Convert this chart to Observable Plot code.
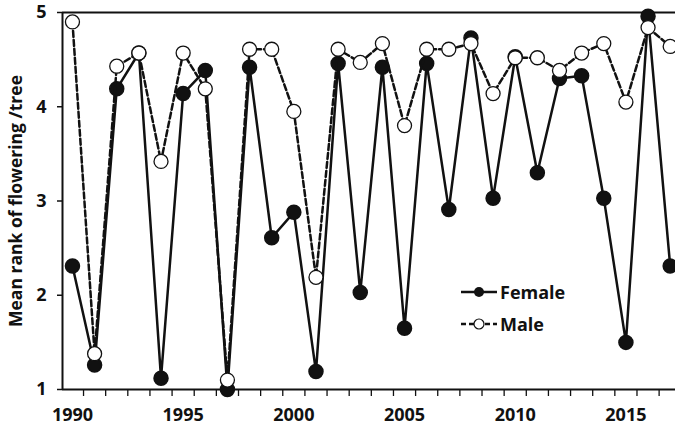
<!DOCTYPE html>
<html>
<head>
<meta charset="utf-8">
<script src="https://cdn.jsdelivr.net/npm/d3@7"></script>
<script src="https://cdn.jsdelivr.net/npm/@observablehq/plot@0.6"></script>
<style>
  html, body { margin: 0; padding: 0; background: #fff; }
  #wrap { position: relative; width: 675px; height: 426px; font-family: "Open Sans", sans-serif; }
  #wrap svg text { font-weight: 700 !important; }
  #legend { position: absolute; left: 460px; top: 276px; font-weight: 700; font-size: 18px; color: #111; }
  #legend .row { display: flex; align-items: center; height: 32px; }
  #legend svg { margin-right: 2px; }
</style>
</head>
<body>
<div id="wrap"></div>
<script>
const years = [1990,1991,1992,1993,1994,1995,1996,1997,1998,1999,2000,2001,2002,2003,2004,2005,2006,2007,2008,2009,2010,2011,2012,2013,2014,2015,2016,2017];
const female = [2.31,1.26,4.19,4.57,1.12,4.14,4.385,1.0,4.42,2.61,2.88,1.19,4.46,2.03,4.42,1.65,4.46,2.91,4.73,3.03,4.53,3.30,4.30,4.33,3.03,1.50,4.96,2.31];
const male = [4.90,1.38,4.43,4.57,3.42,4.57,4.19,1.10,4.61,4.61,3.95,2.19,4.61,4.47,4.67,3.80,4.61,4.61,4.67,4.14,4.52,4.52,4.385,4.57,4.67,4.05,4.84,4.64];
const yTicks = [1,2,3,4,5];
const xLabelTicks = [1990,1995,2000,2005,2010,2015];
const xBoundaryTicks = d3.range(1990.5, 2017.5, 1);
const xDomain = [1989.55, 2017.24];
const yDomain = [1, 5];

const fData = years.map((y,i)=>({year:y, value:female[i]}));
const mData = years.map((y,i)=>({year:y, value:male[i]}));

const chart = Plot.plot({
  width: 675,
  height: 426,
  marginTop: 12,
  marginBottom: 37,
  marginLeft: 62,
  marginRight: 0,
  style: { fontFamily: "'Open Sans', sans-serif", fontSize: "18px", fontWeight: "bold", background: "#fff", color: "#111" },
  x: { domain: xDomain },
  y: { domain: yDomain },
  marks: [
    Plot.axisY({ ticks: yTicks, tickSize: 5, tickPadding: 11, tickFormat: d3.format("d"), label: null, fontSize: 18, strokeWidth: 1.5 }),
    Plot.text(["Mean rank of flowering /tree"], { frameAnchor: "left", textAnchor: "middle", rotate: -90, dx: -46, fontSize: 17.5, fill: "#111" }),
    Plot.axisX({ ticks: xBoundaryTicks, tickSize: 7, tickFormat: () => "", label: null, strokeWidth: 1.3 }),
    Plot.axisX({ ticks: xLabelTicks, tickSize: 0, tickPadding: 19, tickFormat: d3.format("d"), label: null, fontSize: 18 }),
    Plot.ruleY(yDomain, { stroke: "#111", strokeWidth: 2 }),
    Plot.ruleX([xDomain[0]], { stroke: "#111", strokeWidth: 2 }),
    Plot.line(fData, { x: "year", y: "value", stroke: "#111", strokeWidth: 2.5 }),
    Plot.dot(fData, { x: "year", y: "value", r: 7, fill: "#111", stroke: "#111" }),
    Plot.line(mData, { x: "year", y: "value", stroke: "#111", strokeWidth: 2.5, strokeDasharray: "6,3" }),
    Plot.dot(mData, { x: "year", y: "value", r: 7, fill: "#fff", stroke: "#111", strokeWidth: 1.3 })
  ]
});
const wrap = document.getElementById("wrap");
wrap.appendChild(chart);

const legend = document.createElement("div");
legend.id = "legend";
legend.innerHTML = `
  <div class="row"><svg width="38" height="14"><line x1="1" y1="7" x2="37" y2="7" stroke="#111" stroke-width="2.5"/><circle cx="19" cy="7" r="5" fill="#111"/></svg>Female</div>
  <div class="row"><svg width="38" height="14"><line x1="1" y1="7" x2="37" y2="7" stroke="#111" stroke-width="2.5" stroke-dasharray="5,3"/><circle cx="19" cy="7" r="5" fill="#fff" stroke="#111" stroke-width="1.2"/></svg>Male</div>`;
wrap.appendChild(legend);
</script>
</body>
</html>
